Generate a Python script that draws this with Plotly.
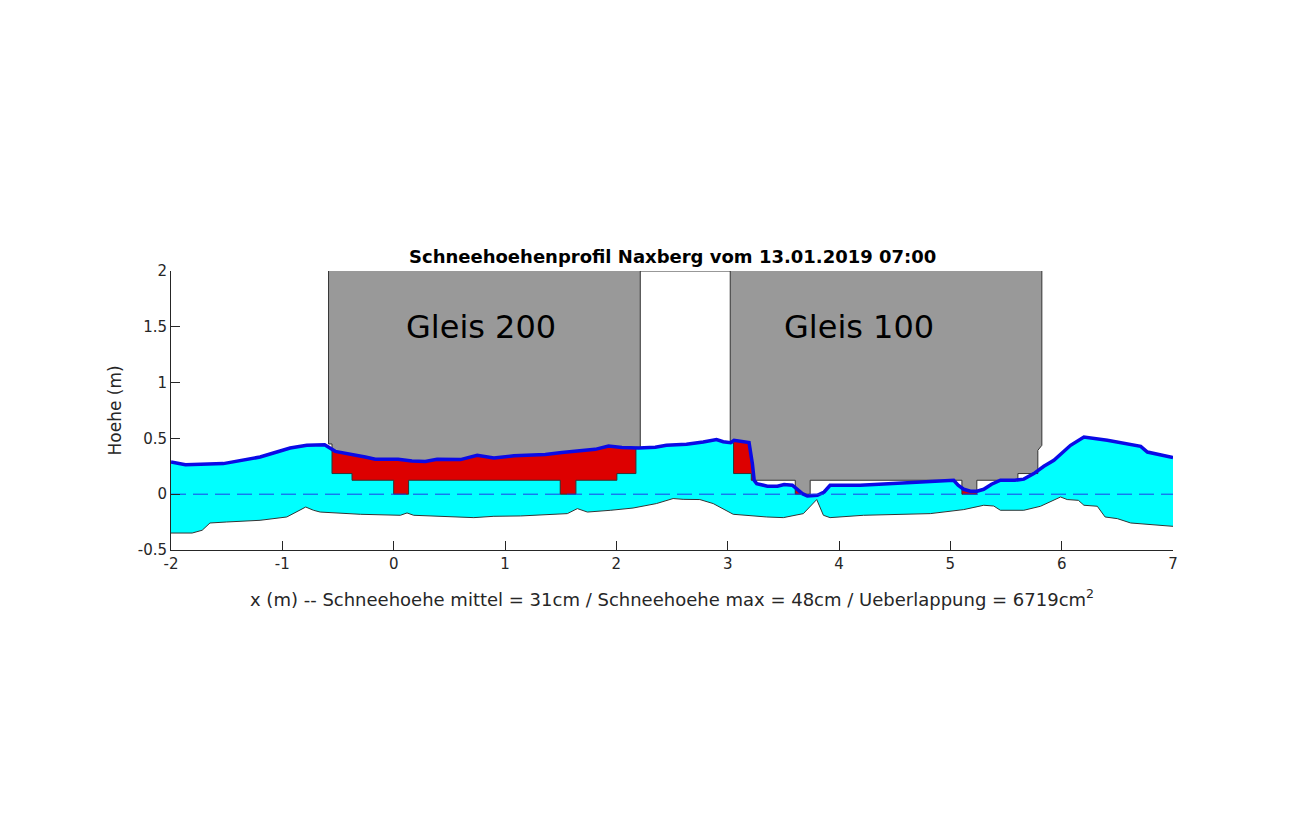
"""Schneehoehenprofil Naxberg: snow profile under two tracks (Plotly)."""
import numpy as np
import plotly.graph_objects as go

# snow surface (m)
snow_x = [-2.00, -1.87, -1.53, -1.35, -1.20, -1.05, -0.93, -0.78, -0.62, -0.525,
          -0.405, -0.255, -0.165, 0.04, 0.164, 0.284, 0.39, 0.60, 0.75, 0.90,
          1.08, 1.22, 1.362, 1.511, 1.66, 1.81, 1.93, 2.05, 2.20, 2.35,
          2.45, 2.63, 2.78, 2.90, 2.96, 3.027, 3.057, 3.192, 3.222, 3.238,
          3.261, 3.357, 3.447, 3.507, 3.581, 3.626, 3.671, 3.716, 3.806, 3.866,
          3.92, 4.19, 4.52, 4.82, 5.03, 5.07, 5.12, 5.18, 5.24, 5.30,
          5.37, 5.45, 5.58, 5.66, 5.75, 5.84, 5.93, 6.08, 6.20, 6.41,
          6.56, 6.71, 6.77, 6.89, 7.00]
snow_y = [0.289, 0.265, 0.274, 0.304, 0.333, 0.378, 0.414, 0.438, 0.444, 0.384,
          0.364, 0.333, 0.313, 0.313, 0.297, 0.293, 0.313, 0.310, 0.349, 0.324,
          0.345, 0.352, 0.355, 0.373, 0.387, 0.402, 0.432, 0.418, 0.414, 0.420,
          0.438, 0.447, 0.468, 0.490, 0.470, 0.462, 0.483, 0.462, 0.274, 0.125,
          0.095, 0.071, 0.071, 0.086, 0.080, 0.041, 0.005, -0.016, -0.010, 0.020,
          0.080, 0.080, 0.095, 0.109, 0.124, 0.080, 0.044, 0.026, 0.026, 0.044,
          0.089, 0.125, 0.125, 0.135, 0.185, 0.250, 0.304, 0.438, 0.513, 0.483,
          0.453, 0.429, 0.378, 0.349, 0.328]

# ground under the snow (m)
ground_x = [-2.00, -1.81, -1.72, -1.65, -1.50, -1.20, -0.96, -0.84, -0.79, -0.72,
            -0.66, -0.30, 0.06, 0.12, 0.18, 0.72, 0.90, 1.14, 1.56, 1.65,
            1.74, 1.95, 2.15, 2.36, 2.51, 2.60, 2.75, 2.87, 3.05, 3.35,
            3.50, 3.68, 3.80, 3.86, 3.92, 4.22, 4.82, 5.12, 5.24, 5.30,
            5.39, 5.45, 5.66, 5.81, 5.99, 6.05, 6.15, 6.20, 6.32, 6.39,
            6.50, 6.62, 7.00]
ground_y = [-0.348, -0.348, -0.323, -0.258, -0.249, -0.234, -0.204, -0.144, -0.115, -0.144,
            -0.160, -0.180, -0.189, -0.168, -0.189, -0.210, -0.198, -0.195, -0.174, -0.129,
            -0.160, -0.144, -0.124, -0.084, -0.039, -0.046, -0.048, -0.084, -0.180, -0.204,
            -0.210, -0.174, -0.048, -0.189, -0.210, -0.189, -0.174, -0.138, -0.115, -0.099,
            -0.106, -0.144, -0.144, -0.108, -0.025, -0.048, -0.055, -0.099, -0.108, -0.204,
            -0.219, -0.258, -0.288]

# vehicle outlines: top-left, down the left side, along the underside, up the right side
gleis200_x = [-0.585, -0.585, -0.554, -0.554, -0.374, -0.374, 0.0, 0.0, 0.134, 0.134,
              1.496, 1.496, 1.637, 1.637, 2.005, 2.005, 2.176, 2.176, 2.215, 2.215]
gleis200_y = [2.0, 0.45, 0.45, 0.185, 0.185, 0.125, 0.125, 0.0, 0.0, 0.125,
              0.125, 0.0, 0.0, 0.125, 0.125, 0.185, 0.185, 0.42, 0.42, 2.0]
gleis100_x = [3.023, 3.023, 3.053, 3.053, 3.212, 3.212, 3.607, 3.607, 3.741, 3.741,
              5.104, 5.104, 5.238, 5.238, 5.607, 5.607, 5.786, 5.786, 5.822, 5.822]
gleis100_y = [2.0, 0.46, 0.46, 0.185, 0.185, 0.125, 0.125, 0.0, 0.0, 0.125,
              0.125, 0.0, 0.0, 0.125, 0.125, 0.185, 0.185, 0.393, 0.438, 2.0]

track_labels = ["Gleis 200", "Gleis 100"]
label_x = [0.78, 4.18]
label_y = [1.5, 1.5]

x_ticks = [-2, -1, 0, 1, 2, 3, 4, 5, 6, 7]
x_ticktext = ["-2", "-1", "0", "1", "2", "3", "4", "5", "6", "7"]
y_ticks = [-0.5, 0, 0.5, 1, 1.5, 2]
y_ticktext = ["-0.5", "0", "0.5", "1", "1.5", "2"]

title = "Schneehoehenprofil Naxberg vom 13.01.2019 07:00"
x_title = ("x (m) -- Schneehoehe mittel = 31cm / Schneehoehe max = 48cm / "
           "Ueberlappung = 6719cm<sup>2</sup>")
y_title = "Hoehe (m)"

FONT = "DejaVu Sans"
INK = "#262626"
SNOW = "#00ffff"
OVERLAP = "#dd0000"
TRAIN = "#999999"
EDGE = "#333333"
LINE = "#0a0ae6"


def _train_fill(fig, tx, ty):
    """Gray body above the snow, red where the underside dips into the snow."""
    grid = np.linspace(tx[0], tx[-1], 3000)
    bottom = np.interp(grid, tx[1:-1], ty[1:-1])
    snow = np.interp(grid, snow_x, snow_y)
    under = (grid >= tx[2]) & (grid <= tx[-3])
    red_top = np.where(under, np.maximum(snow, bottom), bottom)
    gray_low = np.maximum(snow, bottom)
    top = np.full_like(grid, max(ty))
    fig.add_scatter(x=np.r_[grid, grid[::-1]], y=np.r_[bottom, red_top[::-1]],
                    fill="toself", fillcolor=OVERLAP, mode="none", hoverinfo="skip")
    fig.add_scatter(x=np.r_[grid, grid[::-1]], y=np.r_[gray_low, top[::-1]],
                    fill="toself", fillcolor=TRAIN, mode="none", hoverinfo="skip")


fig = go.Figure()

# snow body between ground and surface
fig.add_scatter(x=ground_x + snow_x[::-1], y=ground_y + snow_y[::-1],
                fill="toself", fillcolor=SNOW, mode="none", hoverinfo="skip")

_train_fill(fig, gleis200_x, gleis200_y)
_train_fill(fig, gleis100_x, gleis100_y)

for tx, ty in [(gleis200_x, gleis200_y), (gleis100_x, gleis100_y)]:
    fig.add_scatter(x=tx, y=ty, mode="lines", line=dict(color=EDGE, width=1))
# top edge of the gap between the two vehicles
fig.add_scatter(x=[gleis200_x[-1], gleis100_x[0]], y=[gleis200_y[-1], gleis100_y[0]],
                mode="lines", line=dict(color=EDGE, width=1))

fig.add_scatter(x=ground_x, y=ground_y, mode="lines", line=dict(color=EDGE, width=1))
fig.add_scatter(x=snow_x, y=snow_y, mode="lines", line=dict(color=LINE, width=3.5))
fig.add_scatter(x=[x_ticks[0], x_ticks[-1]], y=[0, 0], mode="lines",
                line=dict(color="#1f3fe8", width=1, dash="15px,7px"))

for text, lx, ly in zip(track_labels, label_x, label_y):
    fig.add_annotation(x=lx, y=ly, text=text, showarrow=False,
                       font=dict(family=FONT, size=32, color="black"))

fig.add_annotation(xref="paper", yref="paper", x=0.5, y=1, yanchor="bottom", yshift=2,
                   text=f"<b>{title}</b>", showarrow=False,
                   font=dict(family=FONT, size=18, color="black"))
fig.add_annotation(xref="paper", yref="paper", x=0.5, y=0, yanchor="top", yshift=-34,
                   text=x_title, showarrow=False,
                   font=dict(family=FONT, size=18, color=INK))
fig.add_annotation(xref="paper", yref="paper", x=0, y=0.5, xanchor="center", xshift=-57,
                   text=y_title, textangle=-90, showarrow=False,
                   font=dict(family=FONT, size=17, color=INK))

axis = dict(showgrid=False, zeroline=False, showline=True, linecolor=INK, linewidth=1,
            ticks="inside", ticklen=9, tickcolor=INK,
            tickfont=dict(family=FONT, size=15, color=INK))
fig.update_xaxes(range=[x_ticks[0], x_ticks[-1]], tickvals=x_ticks, ticktext=x_ticktext, **axis)
fig.update_yaxes(range=[y_ticks[0], y_ticks[-1]], tickvals=y_ticks, ticktext=y_ticktext, **axis)
# the page adds an 8px body margin, so the figure is drawn 16px smaller
fig.update_layout(width=1282, height=822, showlegend=False,
                  margin=dict(l=163, r=117, t=263, b=280),
                  paper_bgcolor="white", plot_bgcolor="white",
                  font=dict(family=FONT))

fig.write_html("out.html")
